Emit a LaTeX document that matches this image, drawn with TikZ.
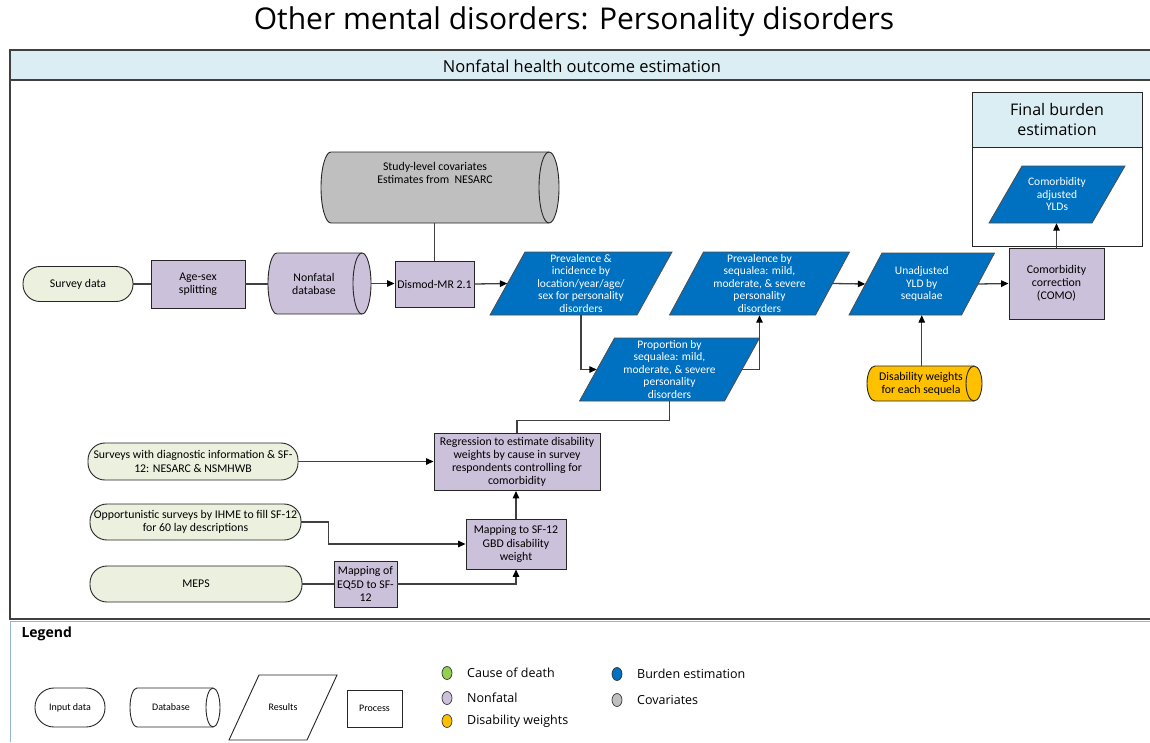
\documentclass[tikz,border=0pt]{standalone}
\usepackage{fontspec}
\setmainfont{Carlito}
\newfontfamily\segfont{Open Sans}
\usetikzlibrary{arrows.meta,shapes.geometric}

\definecolor{lav}{HTML}{CCC1DA}
\definecolor{ingreen}{HTML}{EBF1DE}
\definecolor{resblue}{HTML}{0070C0}
\definecolor{covgray}{HTML}{BFBFBF}
\definecolor{dworange}{HTML}{FFC000}
\definecolor{hdrblue}{HTML}{DAEEF3}
\definecolor{cdgreen}{HTML}{92D050}
\definecolor{legline}{HTML}{95B3D7}
\definecolor{connc}{HTML}{404040}

% parallelogram: style prefix, name, centre x, centre y, edge length, height, skew, text
\newcommand\parabox[8]{%
  \draw[#1shape] ({#3-#5/2-#7/2},{#4+#6/2}) -- ({#3+#5/2-#7/2},{#4+#6/2})
     -- ({#3+#5/2+#7/2},{#4-#6/2}) -- ({#3-#5/2+#7/2},{#4-#6/2}) -- cycle;
  \node[#1text, minimum width=#5, minimum height=#6] (#2) at (#3,#4) {#8};
}
% horizontal cylinder: name, left, right, top, bottom, cap half-width, fill
\newcommand\hcyl[7]{%
  \pgfmathsetmacro\cylry{(#5-#4)/2}%
  \pgfmathsetmacro\cylw{#3-#2}%
  \pgfmathsetmacro\cylh{#5-#4}%
  \draw[cylshape, fill=#7] (#2+#6,#4) -- (#3-#6,#4)
     arc[start angle=-90, end angle=90, x radius=#6, y radius=\cylry]
     -- (#2+#6,#5)
     arc[start angle=90, end angle=270, x radius=#6, y radius=\cylry] -- cycle;
  \draw[cylshape] (#3-#6,#4) arc[start angle=-90, end angle=-270, x radius=#6, y radius=\cylry];
  \node[inner sep=0, minimum width=\cylw pt, minimum height=\cylh pt] (#1) at ({(#2+#3)/2},{(#4+#5)/2}) {};
}

\begin{document}
\begin{tikzpicture}[x=1pt, y=-1pt,
  every node/.style={font=\fontsize{11.8}{13.2}\selectfont, text=black},
  conn/.style={draw=connc, line width=1.3pt},
  arr/.style={conn, -{Triangle[length=7.5pt, width=6.5pt, color=black]}},
  frame/.style={draw=connc, line width=1.2pt},
  proc/.style={draw=black!85, line width=0.9pt, fill=lav, align=center, inner sep=1pt},
  inp/.style={draw=black!85, line width=0.9pt, fill=ingreen, rounded corners=17pt, align=center, inner sep=1pt},
  resshape/.style={draw=black!70, line width=0.8pt, fill=resblue},
  restext/.style={text=white, align=center, inner sep=0pt, font=\fontsize{11.5}{12.5}\selectfont},
  legshape/.style={draw=black!85, line width=0.9pt, fill=white},
  legtext/.style={align=center, inner sep=0pt, font=\fontsize{10}{12}\selectfont},
  cylshape/.style={draw=black!85, line width=0.9pt},
  thinbox/.style={draw=black!85, line width=0.9pt},
  dot/.style={ellipse, draw=black!80, line width=0.7pt, minimum width=10pt, minimum height=13pt, inner sep=0pt},
  dotlabel/.style={anchor=west, inner sep=0pt, font=\segfont\fontsize{12.5}{15}\selectfont},
]
\useasboundingbox (0,0) rectangle (1150,742);
\fill[white] (0,0) rectangle (1150,742);

% title
\node[font=\segfont\fontsize{30}{35}\selectfont] (title) at (574,22) {Other mental disorders: Personality disorders};

% main frame with its header band
\fill[hdrblue] (10,50) rectangle (1160,80);
\draw[frame] (10,50) rectangle (1160,619);
\draw[frame] (10,80) -- (1160,80);
\node[font=\segfont\fontsize{16.5}{19}\selectfont] (hdr) at (582,66) {Nonfatal health outcome estimation};

% top row
\node[inp, minimum width=110pt, minimum height=35pt] (survey) at (78,284) {Survey data};
\node[proc, minimum width=94pt, minimum height=48pt] (agesex) at (198,284) {Age-sex\\splitting};
\hcyl{nfdb}{268}{371}{253}{314}{9}{lav}
\node[align=center, inner sep=0pt] (nfdbtext) at (314,284) {Nonfatal\\database};
\node[proc, minimum width=79pt, minimum height=46pt] (dismod) at (434.5,284) {Dismod-MR 2.1};
\hcyl{cov}{321}{559}{152}{223}{10}{covgray}
\node[align=center, anchor=north, inner sep=0pt] (covtext) at (435,162) {Study-level covariates\\Estimates from \ NESARC};

\parabox{res}{previnc}{581}{283.5}{147}{63}{35}{Prevalence \&\\incidence by\\location/year/age/\\sex for personality\\disorders}
\parabox{res}{prevseq}{759.5}{283.5}{146}{63}{34}{Prevalence by\\sequalea: mild,\\moderate, \& severe\\personality\\disorders}
\parabox{res}{prop}{669.5}{369.5}{145}{63}{35}{Proportion by\\sequalea: mild,\\moderate, \& severe\\personality\\disorders}
\parabox{res}{unadj}{921.75}{284}{112.5}{62}{33}{Unadjusted\\YLD by\\sequalae}
\node[proc, minimum width=95pt, minimum height=71pt] (como) at (1056.5,283.5) {Comorbidity\\correction\\(COMO)};

% final burden estimation panel
\draw[thinbox, fill=white] (972,92) rectangle (1142,246);
\draw[thinbox, fill=hdrblue] (972,92) rectangle (1142,147);
\node[align=center, font=\segfont\fontsize{16}{20}\selectfont] (fbtitle) at (1057,119.5) {Final burden\\estimation};
\parabox{res}{adj}{1057}{194.5}{103}{57}{33}{Comorbidity\\adjusted\\YLDs}

% disability weights
\hcyl{dw}{867}{982}{366}{401}{8}{dworange}
\node[align=center, inner sep=0pt] (dwtext) at (921,384) {Disability weights\\for each sequela};

% lower part
\node[inp, minimum width=210pt, minimum height=37pt] (svy) at (193,461.5) {Surveys with diagnostic information \& SF-\\12: NESARC \& NSMHWB};
\node[proc, minimum width=166pt, minimum height=57pt] (reg) at (517,462) {Regression to estimate disability\\weights by cause in survey\\respondents controlling for\\comorbidity};
\node[inp, minimum width=211pt, minimum height=36pt] (opp) at (195.5,522) {Opportunistic surveys by IHME to fill SF-12\\for 60 lay descriptions};
\node[proc, minimum width=100pt, minimum height=50pt] (map) at (516,544) {Mapping to SF-12\\GBD disability\\weight};
\node[inp, minimum width=212pt, minimum height=36pt] (meps) at (196,584) {MEPS};
\node[proc, minimum width=63pt, minimum height=46pt] (eq) at (365.5,584) {Mapping of\\EQ5D to SF-\\12};

% connectors
\draw[conn] (survey.east) -- (agesex.west);
\draw[conn] (agesex.east) -- (agesex.east -| nfdb.west);
\draw[arr] (nfdb.east) -- (nfdb.east -| dismod.west);
\draw[conn] (dismod.north) -- (dismod.north |- cov.south);
\draw[arr] (dismod.east) -- (previnc.west);
\draw[arr] (previnc.south) |- (prop.west);
\draw[arr] (prop.east) -| (prevseq.south);
\draw[arr] (prevseq.east) -- (unadj.west);
\draw[arr] (unadj.east) -- (como.west);
\draw[arr] (como.north) -- (como.north |- adj.south);
\draw[arr] (unadj.south |- dw.north) -- (unadj.south);
\draw[conn] (prop.south) -- ++(0,19) -| (reg.north);
\draw[arr] (svy.east) -- (svy.east -| reg.west);
\draw[arr] (opp.east) -- ++(27,0) |- (map.west);
\draw[arr] (map.north) -- (map.north |- reg.south);
\draw[conn] (meps.east) -- (eq.west);
\draw[arr] (eq.east) -| (map.south);

% legend
\draw[draw=legline, line width=1pt] (10,621) -- (1160,621);
\draw[draw=legline, line width=1pt] (10,621) -- (10,742);
\node[anchor=west, font=\segfont\bfseries\fontsize{14}{17}\selectfont] (legend) at (18,634) {Legend};
\node[legshape, legtext, rounded corners=19pt, minimum width=70pt, minimum height=39pt] (lin) at (70,707.5) {Input data};
\hcyl{ldb}{130}{220}{688}{727}{7}{white}
\node[legtext] (ldbtext) at (171,707.5) {Database};
\parabox{leg}{lres}{283}{707.5}{78}{65}{30}{Results}
\node[legshape, legtext, minimum width=55pt, minimum height=37pt] (lproc) at (374.5,708.5) {Process};

\node[dot, fill=cdgreen] (dcod) at (447,673) {};
\node[dotlabel] (tcod) at (467,673) {Cause of death};
\node[dot, fill=lav] (dnf) at (447,698) {};
\node[dotlabel] (tnf) at (467,698) {Nonfatal};
\node[dot, fill=dworange] (ddw) at (447,721) {};
\node[dotlabel] (tdw) at (467,721) {Disability weights};
\node[dot, fill=resblue] (dbe) at (617,674) {};
\node[dotlabel] (tbe) at (637,674) {Burden estimation};
\node[dot, fill=covgray] (dcv) at (617,700) {};
\node[dotlabel] (tcv) at (637,700) {Covariates};
\end{tikzpicture}
\end{document}
